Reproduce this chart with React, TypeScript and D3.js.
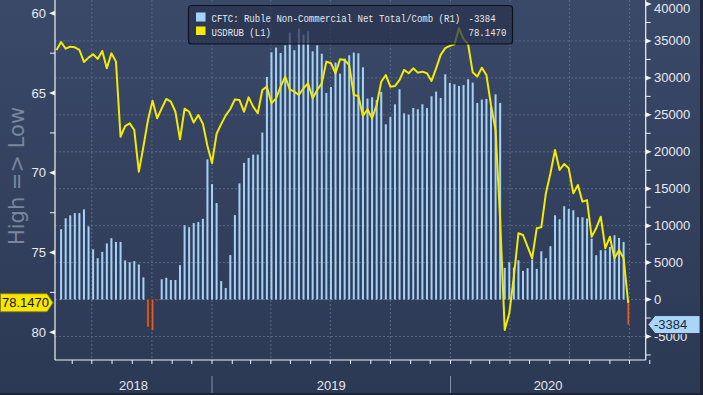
import React, { useEffect } from 'react';
import * as d3 from 'd3';

// CFTC Ruble non-commercial net positions (contracts), weekly, from 2018-05-15
const cftcNet = [
  9520, 11000, 11400, 11700, 11700, 12200, 9900, 6800, 5600, 6450,
  7600, 8300, 7800, 7800, 5300, 5050, 5200, 4750, 3000, -3700,
  -4150, -150, 2750, 2950, 2650, 2650, 4650, 10050, 9800, 10350,
  10480, 10930, 18970, 15630, 13060, 2500, 1560, 6020, 11430, 15720,
  18500, 19170, 19620, 19620, 22600, 30130, 33460, 34100, 33370, 34410,
  36130, 33740, 36670, 35860, 36300, 33600, 34410, 33280, 27960, 28770,
  32070, 30580, 32610, 33060, 33420, 33330, 31440, 27200, 27380, 27000,
  28100, 23720, 24720, 26430, 28460, 25210, 25030, 25930, 25750, 26430,
  25930, 27510, 28140, 27290, 30490, 29320, 29140, 28910, 29040, 29810,
  29360, 26610, 27060, 27150, 26070, 27780, 26610, 4290, 5050, 4330,
  5320, 3880, 4240, 5410, 4150, 6540, 5590, 7220, 11410, 10870,
  12630, 12270, 12090, 11140, 11140, 10960, 8250, 6000, 6680, 6680,
  7130, 8700, 8340, 7800, -3384,
];

// USDRUB weekly, from 2018-05-08
const usdrub = [
  62.3, 61.8, 62.22, 62.09, 62.13, 62.3, 63.05, 62.78, 62.57, 62.86,
  62.36, 63.45, 62.51, 63.03, 67.74, 67.07, 66.9, 67.32, 69.93, 68.36,
  66.69, 65.48, 66.58, 65.96, 65.37, 65.54, 66.17, 67.9, 65.98, 66.17,
  66.85, 66.38, 66.92, 68.32, 69.39, 67.55, 66.95, 66.4, 66.0, 65.4,
  65.44, 66.17, 65.27, 65.85, 66.27, 64.81, 64.6, 65.64, 65.33, 64.6,
  63.97, 64.77, 64.91, 65.12, 64.7, 64.39, 65.33, 64.81, 64.39, 63.03,
  63.13, 63.76, 62.88, 62.93, 63.25, 65.12, 65.18, 66.44, 66.02, 66.58,
  65.75, 64.29, 63.87, 64.6, 64.56, 64.18, 63.55, 63.76, 63.45, 63.72,
  63.66, 63.76, 64.24, 63.45, 62.61, 62.18, 62.04, 61.95, 60.94, 61.6,
  61.95, 63.7, 63.96, 63.41, 63.87, 65.75, 67.32, 72.96, 79.85, 78.81,
  76.51, 73.79, 73.9, 74.63, 75.36, 73.48, 73.42, 71.29, 70.03, 68.57,
  69.82, 69.45, 69.72, 71.29, 70.76, 71.81, 71.71, 74.01, 73.48, 72.75,
  74.73, 74.01, 75.36, 74.84, 75.36, 78.147,
];

const leftTicks = [60, 65, 70, 75, 80];
const leftMinor = [62.5, 67.5, 72.5, 77.5];
const rightTicks = [40000, 35000, 30000, 25000, 20000, 15000, 10000, 5000, 0, -5000];
const rightMinor = [37500, 32500, 27500, 22500, 17500, 12500, 7500, 2500, -2500, -7500];
const years = ['2018', '2019', '2020'];

const legendLabels = ['CFTC: Ruble Non-Commercial Net Total/Comb (R1)', 'USDRUB (L1)'];
const lastCftc = '-3384';
const lastRub = '78.1470';

const DAY = 864e5;
const barStart = Date.UTC(2018, 4, 15);
const lineStart = Date.UTC(2018, 4, 8);

const W = 703;
const H = 395;
const L = 55;
const R = 645.7;
const B = 360;

const mono = '"Liberation Mono", "DejaVu Sans Mono", monospace';
const sans = '"Liberation Sans", Arial, sans-serif';

// legend font is a narrow mono; squeeze Liberation Mono horizontally
const squeeze = 0.82;

export default function App() {
  useEffect(() => {
    document.body.style.margin = '0';
  }, []);

  const x = d3
    .scaleUtc()
    .domain([new Date(Date.UTC(2018, 4, 5, 16)), new Date(Date.UTC(2020, 9, 25, 19))])
    .range([L, R]);
  const yL = d3.scaleLinear().domain([60, 80]).range([13.3, 332.3]);
  const yR = d3.scaleLinear().domain([-5000, 40000]).range([336.5, 4.0]);

  const bars = cftcNet.map((v, i) => ({ date: new Date(barStart + i * 7 * DAY), value: v }));
  const pts = usdrub.map((v, i) => ({ date: new Date(lineStart + i * 7 * DAY), value: v }));

  const line = d3
    .line<{ date: Date; value: number }>()
    .x((d) => x(d.date))
    .y((d) => yL(d.value))
    .curve(d3.curveLinear);

  const months = d3.utcMonth.range(new Date(Date.UTC(2018, 5, 1)), new Date(Date.UTC(2020, 10, 2)));
  const quarters = months.filter((m) => m.getUTCMonth() % 3 === 0);
  const yearStarts = [new Date(Date.UTC(2019, 0, 1)), new Date(Date.UTC(2020, 0, 1))];
  const yearEdges = [L, x(yearStarts[0]), x(yearStarts[1]), R];

  const y0 = yR(0);
  const lastY = yL(78.147);
  const lastYR = yR(-3384);

  return (
    <svg width={W} height={H} style={{ display: 'block' }}>
      <defs>
        <linearGradient id="bg" x1="0" y1="0" x2="0" y2="1">
          <stop offset="0" stopColor="#3a4968" />
          <stop offset="1" stopColor="#2c3955" />
        </linearGradient>
      </defs>
      <rect x={0} y={0} width={W} height={H} fill="url(#bg)" />

      {/* grid */}
      {rightTicks.filter((t) => t < 40000).map((t) => (
        <line key={'h' + t} x1={L} x2={R} y1={yR(t)} y2={yR(t)} stroke="#5a6884" strokeWidth={1} strokeDasharray="2,2" />
      ))}
      {quarters.map((q) => (
        <line key={'v' + q.getTime()} x1={x(q)} x2={x(q)} y1={0} y2={B} stroke="#5a6884" strokeWidth={1} strokeDasharray="2,2" />
      ))}

      {/* bars */}
      {bars.map((d) => {
        const yv = yR(d.value);
        const neg = d.value < 0;
        return (
          <rect
            key={d.date.getTime()}
            x={x(d.date) - 1}
            y={Math.min(yv, y0)}
            width={2}
            height={Math.max(1, Math.abs(y0 - yv))}
            fill={neg ? '#e4601f' : '#a4d3f7'}
            stroke={neg ? '#7a3214' : 'none'}
            strokeWidth={neg ? 0.4 : 0}
          />
        );
      })}

      {/* USDRUB line */}
      <path d={line(pts) || ''} fill="none" stroke="#f3eb05" strokeWidth={2} strokeLinejoin="round" />

      {/* axes */}
      <line x1={L} x2={L} y1={0} y2={B} stroke="#f2f2f2" strokeWidth={1.2} />
      <line x1={R} x2={R} y1={0} y2={B} stroke="#f2f2f2" strokeWidth={1.2} />
      <line x1={L} x2={R} y1={B} y2={B} stroke="#f2f2f2" strokeWidth={1.2} />

      {months.map((m) => (
        <line key={'m' + m.getTime()} x1={x(m)} x2={x(m)} y1={B} y2={B + 4} stroke="#f2f2f2" strokeWidth={1} />
      ))}

      {leftTicks.map((t) => (
        <g key={'l' + t}>
          <polygon points={`${L},${yL(t) - 2.5} ${L},${yL(t) + 2.5} ${L - 6},${yL(t)}`} fill="#f2f2f2" />
          <text x={46} y={yL(t)} dy="0.35em" textAnchor="end" fontFamily={sans} fontSize={13} fill="#e8eaee">
            {t}
          </text>
        </g>
      ))}
      {leftMinor.map((t) => (
        <line key={'lm' + t} x1={L - 5} x2={L} y1={yL(t)} y2={yL(t)} stroke="#f2f2f2" strokeWidth={1} />
      ))}

      {rightTicks.map((t) => (
        <g key={'r' + t}>
          <polygon points={`${R},${yR(t) - 2.5} ${R},${yR(t) + 2.5} ${R + 6},${yR(t)}`} fill="#f2f2f2" />
          <text x={654} y={Math.max(yR(t), 8)} dy="0.35em" fontFamily={sans} fontSize={13} fill="#e8eaee">
            {t}
          </text>
        </g>
      ))}
      {rightMinor.map((t) => (
        <line key={'rm' + t} x1={R} x2={R + 5} y1={yR(t)} y2={yR(t)} stroke="#f2f2f2" strokeWidth={1} />
      ))}

      {/* left axis title */}
      <text
        transform={`translate(24,176) rotate(-90)`}
        textAnchor="middle"
        fontFamily='"DejaVu Sans", sans-serif'
        fontSize={21}
        fill="#7b869c"
      >
        High =&gt; Low
      </text>

      {/* year band */}
      {years.map((yr, i) => (
        <text
          key={yr}
          x={(yearEdges[i] + yearEdges[i + 1]) / 2}
          y={390}
          textAnchor="middle"
          fontFamily={sans}
          fontSize={13}
          fill="#e4e6ea"
        >
          {yr}
        </text>
      ))}
      {yearStarts.map((d) => (
        <line key={'ys' + d.getTime()} x1={x(d)} x2={x(d)} y1={376} y2={H} stroke="#8892a6" strokeWidth={1} />
      ))}

      {/* last-value tags */}
      <polygon
        points={`0.5,${lastY - 9} 47,${lastY - 9} 53,${lastY} 47,${lastY + 9} 0.5,${lastY + 9}`}
        fill="#f7e600"
        stroke="#8a7f00"
        strokeWidth={0.8}
      />
      <text x={2} y={lastY} dy="0.36em" fontFamily={sans} fontSize={13} fill="#111">
        {lastRub}
      </text>
      <polygon
        points={`648,${lastYR} 655,${lastYR - 9} 700,${lastYR - 9} 700,${lastYR + 9} 655,${lastYR + 9}`}
        fill="#a9d5f7"
        stroke="#1a2640"
        strokeWidth={0.8}
      />
      <text x={654} y={lastYR} dy="0.36em" fontFamily={sans} fontSize={13} fill="#1b2742">
        {lastCftc}
      </text>

      {/* legend */}
      <rect x={188.5} y={5.5} width={324} height={38.5} rx={3} fill="#27324d" fillOpacity={0.72} stroke="#0c111d" strokeWidth={1.2} />
      <rect x={196} y={12.5} width={9.5} height={9} fill="#a4d3f7" />
      <rect x={196} y={26.5} width={9.5} height={8.5} fill="#f3eb05" />
      {legendLabels.map((s, i) => (
        <g key={s} transform={`translate(211.5,${21.5 + i * 14}) scale(${squeeze},1)`}>
          <text x={0} y={0} fontFamily={mono} fontSize={11} fill="#e6e8ec">
            {s}
          </text>
        </g>
      ))}
      {[lastCftc, lastRub].map((s, i) => (
        <g key={'lv' + i} transform={`translate(468.5,${21.5 + i * 14}) scale(${squeeze},1)`}>
          <text x={0} y={0} fontFamily={mono} fontSize={11} fill="#e6e8ec">
            {s}
          </text>
        </g>
      ))}

      {/* frame */}
      <line x1={701.5} x2={701.5} y1={0} y2={H} stroke="#1e2536" strokeWidth={3} />
      <line x1={0} x2={W} y1={394} y2={394} stroke="#1e2536" strokeWidth={2} />
    </svg>
  );
}
